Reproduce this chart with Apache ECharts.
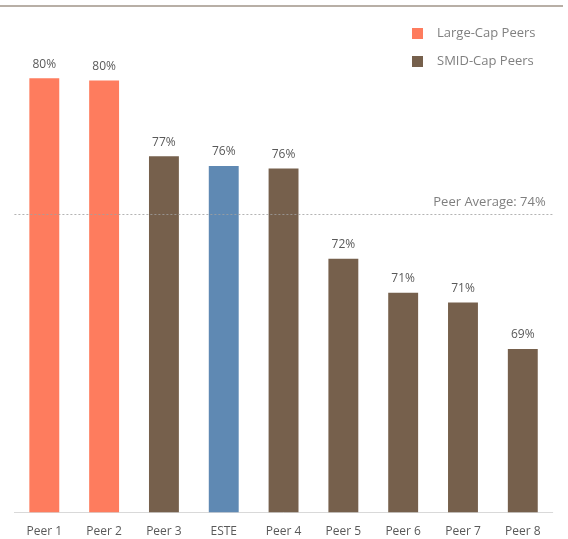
<!DOCTYPE html>
<html>
<head>
<meta charset="utf-8">
<script src="https://cdn.jsdelivr.net/npm/echarts@6/dist/echarts.min.js"></script>
<style>
  html, body { margin: 0; padding: 0; background: #fff; }
  #chart { width: 568px; height: 539px; }
</style>
</head>
<body>
<div id="chart"></div>
<script>
// Gross margin comparison, each company's share in percent
const categories = ['Peer 1', 'Peer 2', 'Peer 3', 'ESTE', 'Peer 4', 'Peer 5', 'Peer 6', 'Peer 7', 'Peer 8'];
const largeCap   = [79.8, 79.7, '-', '-', '-', '-', '-', '-', '-'];
const smidCap    = ['-', '-', 76.6, '-', 76.1, 72.4, 71.0, 70.6, 68.7];
const company    = ['-', '-', '-', 76.2, '-', '-', '-', '-', '-'];
const peerAverage = 74.2;

const FONT = '"Open Sans", "Noto Sans", sans-serif';
const valueLabel = {
  show: true,
  position: 'top',
  distance: 8,
  color: '#595959',
  fontFamily: FONT,
  fontSize: 12,
  formatter: p => Math.round(p.value) + '%'
};

const chart = echarts.init(document.getElementById('chart'), null, { renderer: 'canvas' });
chart.setOption({
  animation: false,
  backgroundColor: '#ffffff',
  grid: { left: 14.4, right: 15.3, top: 24.5, bottom: 26.7, containLabel: false },
  legend: {
    data: ['Large-Cap Peers', 'SMID-Cap Peers'],
    orient: 'vertical',
    left: 407,
    top: 22,
    itemWidth: 11,
    itemHeight: 11,
    itemGap: 15,
    icon: 'rect',
    textStyle: { color: '#808080', fontFamily: FONT, fontSize: 13, padding: [0, 0, 0, 9] }
  },
  xAxis: {
    type: 'category',
    data: categories,
    axisLine: { show: true, lineStyle: { color: '#d9d9d9', width: 1 } },
    axisTick: { show: false },
    axisLabel: { color: '#595959', fontFamily: FONT, fontSize: 12, margin: 13 }
  },
  yAxis: {
    type: 'value',
    min: 62,
    max: 82,
    show: false,
    splitLine: { show: false }
  },
  graphic: [{
    type: 'line',
    shape: { x1: 0, y1: 6, x2: 563, y2: 6 },
    style: { stroke: '#a09488', lineWidth: 1.5 },
    silent: true
  }],
  series: [
    {
      name: 'Large-Cap Peers',
      type: 'bar',
      data: largeCap,
      barWidth: '50%',
      barGap: '-100%',
      itemStyle: { color: '#fe7c5e' },
      label: valueLabel
    },
    {
      name: 'SMID-Cap Peers',
      type: 'bar',
      data: smidCap,
      barWidth: '50%',
      barGap: '-100%',
      itemStyle: { color: '#76604c' },
      label: valueLabel
    },
    {
      name: 'ESTE',
      type: 'bar',
      data: company,
      barWidth: '50%',
      barGap: '-100%',
      itemStyle: { color: '#5f89b3' },
      label: valueLabel,
      markLine: {
        silent: true,
        symbol: ['none', 'none'],
        z: 10,
        lineStyle: { type: [2, 2], color: 'rgba(160,160,160,0.8)', width: 1.2 },
        label: {
          show: true,
          position: 'insideEndTop',
          distance: [0, 6],
          padding: [0, 7, 0, 0],
          color: '#7f7f7f',
          fontFamily: FONT,
          fontSize: 13,
          formatter: () => 'Peer Average: ' + Math.round(peerAverage) + '%'
        },
        data: [{ yAxis: peerAverage }]
      }
    }
  ]
});
</script>
</body>
</html>
